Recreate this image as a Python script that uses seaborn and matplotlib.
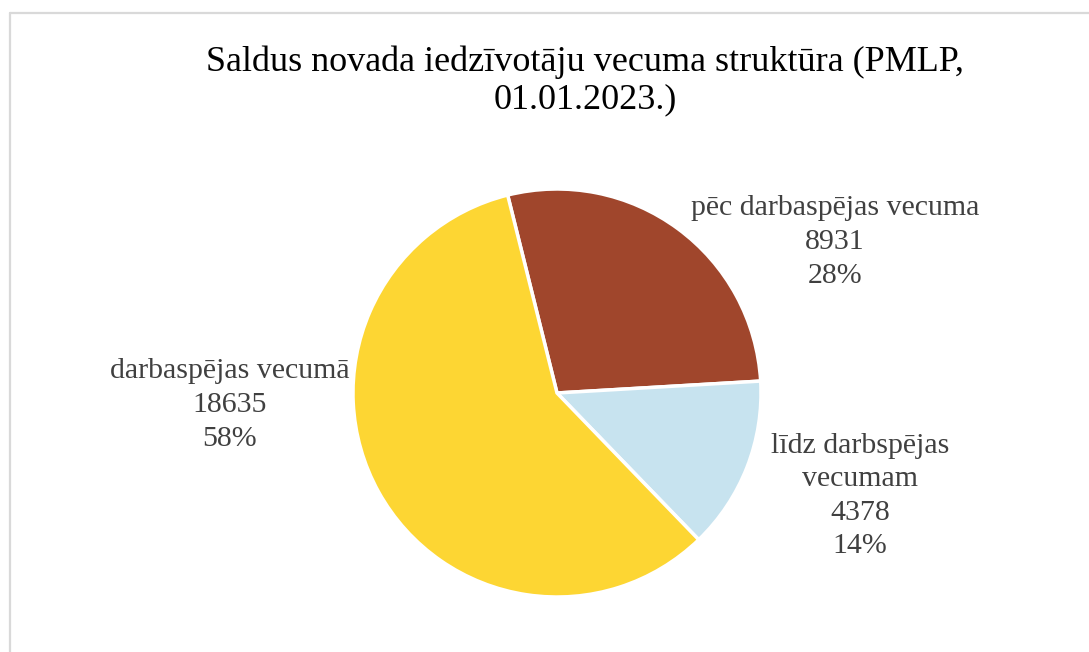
import seaborn as sns
import matplotlib.pyplot as plt
from matplotlib.lines import Line2D

# dati
groups = ['pēc darbaspējas vecuma', 'līdz darbspējas\nvecumam', 'darbaspējas vecumā']
counts = [8931, 4378, 18635]
colors = ['#A0462C', '#C7E3EF', '#FDD633']

sns.set_theme(style='white')
plt.rcParams['font.family'] = ['Liberation Serif', 'DejaVu Serif']

fig = plt.figure(figsize=(10.89, 6.52), dpi=100)
fig.patch.set_facecolor('white')

# pie axes: kvadrāts ap centru (557, 393), rādiuss 204 px
ax = fig.add_axes([353 / 1089, 1 - 597 / 652, 408 / 1089, 408 / 652])
wedges, _ = ax.pie(
    counts,
    colors=colors,
    startangle=104,
    counterclock=False,
    wedgeprops=dict(edgecolor='white', linewidth=2.5),
)
ax.set_xlim(-1, 1)
ax.set_ylim(-1, 1)
ax.axis('off')

# etiķetes
total = sum(counts)
label_pos = [(835, 242), (860, 496), (230, 405)]
for name, n, (px, py) in zip(groups, counts, label_pos):
    txt = f'{name}\n{n}\n{round(100 * n / total)}%'
    fig.text(px / 1089, 1 - py / 652, txt, ha='center', va='center',
             fontsize=21.5, color='#404040', linespacing=1.38)

# virsraksts
fig.text(585 / 1089, 1 - 81 / 652,
         'Saldus novada iedzīvotāju vecuma struktūra (PMLP,\n01.01.2023.)',
         ha='center', va='center', fontsize=26, color='black', linespacing=1.2)

# rāmis (augša un kreisā mala)
fig.add_artist(Line2D([10 / 1089, 1], [1 - 13 / 652] * 2, color='#D9D9D9', lw=1.6,
                      transform=fig.transFigure))
fig.add_artist(Line2D([10 / 1089] * 2, [0, 1 - 13 / 652], color='#D9D9D9', lw=1.6,
                      transform=fig.transFigure))

fig.savefig('out.png', dpi=100)
